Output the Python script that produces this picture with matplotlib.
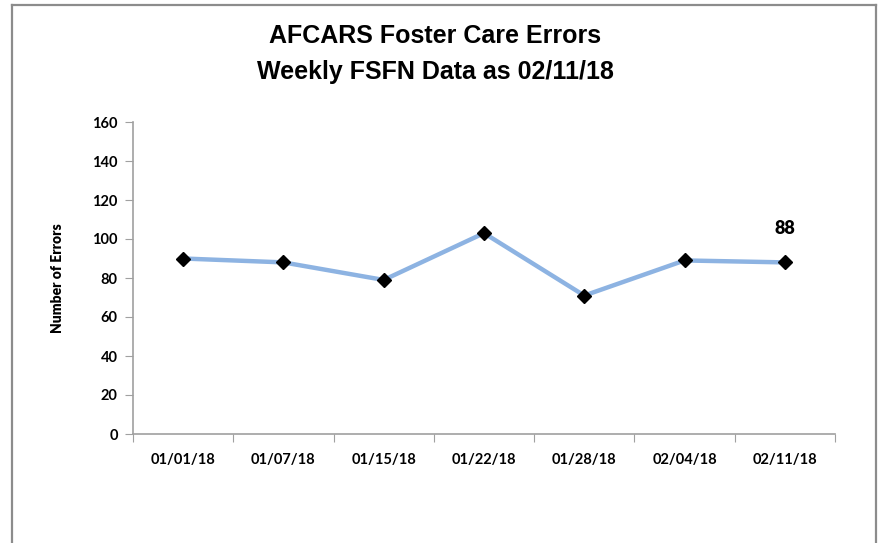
import matplotlib.pyplot as plt
from matplotlib.lines import Line2D
import numpy as np

weeks = ['01/01/18', '01/07/18', '01/15/18', '01/22/18', '01/28/18', '02/04/18', '02/11/18']
errors = [90, 88, 79, 103, 71, 89, 88]
yticks = [0, 20, 40, 60, 80, 100, 120, 140, 160]

title_font = ['Liberation Sans Narrow', 'Liberation Sans', 'DejaVu Sans']
label_font = ['Lato', 'DejaVu Sans']

fig = plt.figure(figsize=(8.83, 5.43), dpi=100)
W, H = 883, 543

# chart frame (gray, open at the bottom)
frame_col = '#8c8c8c'
fig.add_artist(Line2D([12 / W, 12 / W], [0, 1 - 5 / H], color=frame_col, lw=1.6, transform=fig.transFigure))
fig.add_artist(Line2D([12 / W, 876 / W], [1 - 5 / H, 1 - 5 / H], color=frame_col, lw=1.6, transform=fig.transFigure))
fig.add_artist(Line2D([876 / W, 876 / W], [0, 1 - 5 / H], color=frame_col, lw=1.6, transform=fig.transFigure))

ax = fig.add_axes([133 / W, 109 / H, (835 - 133) / W, 312 / H])

x = np.arange(len(weeks))
ax.plot(x, errors, color='#8db3e2', lw=3.2, marker='D', markersize=7,
        markerfacecolor='black', markeredgecolor='black', zorder=3)
ax.text(x[-1], errors[-1] + 13, str(errors[-1]), ha='center', va='bottom',
        fontsize=13, fontweight='heavy', family=label_font)

ax.set_xlim(-0.5, len(weeks) - 0.5)
ax.set_ylim(0, 160)
ax.set_yticks(yticks)
ax.set_yticklabels([str(v) for v in yticks], fontsize=10.5, fontweight='bold', family=label_font)

ax.set_xticks(np.arange(-0.5, len(weeks), 1.0))
ax.set_xticklabels([])
ax.set_xticks(x, minor=True)
ax.set_xticklabels(weeks, minor=True, fontsize=10.5, fontweight='bold', family=label_font)
ax.tick_params(axis='x', which='minor', length=0, pad=14)
ax.tick_params(axis='x', which='major', length=6, color='#a0a0a0', direction='out')
ax.tick_params(axis='y', length=6, color='#a0a0a0', direction='out', pad=5)

for side in ['top', 'right']:
    ax.spines[side].set_visible(False)
for side in ['left', 'bottom']:
    ax.spines[side].set_color('#a0a0a0')
    ax.spines[side].set_linewidth(1.2)

ax.set_ylabel('Number of Errors', fontsize=10, fontweight='heavy', family=label_font, labelpad=20)

fig.text(435 / W, 1 - 36 / H, 'AFCARS Foster Care Errors', ha='center', va='center',
         fontsize=18, fontweight='bold', family=title_font)
fig.text(435 / W, 1 - 72 / H, 'Weekly FSFN Data as 02/11/18', ha='center', va='center',
         fontsize=18, fontweight='bold', family=title_font)

plt.savefig('out.png', dpi=100)
